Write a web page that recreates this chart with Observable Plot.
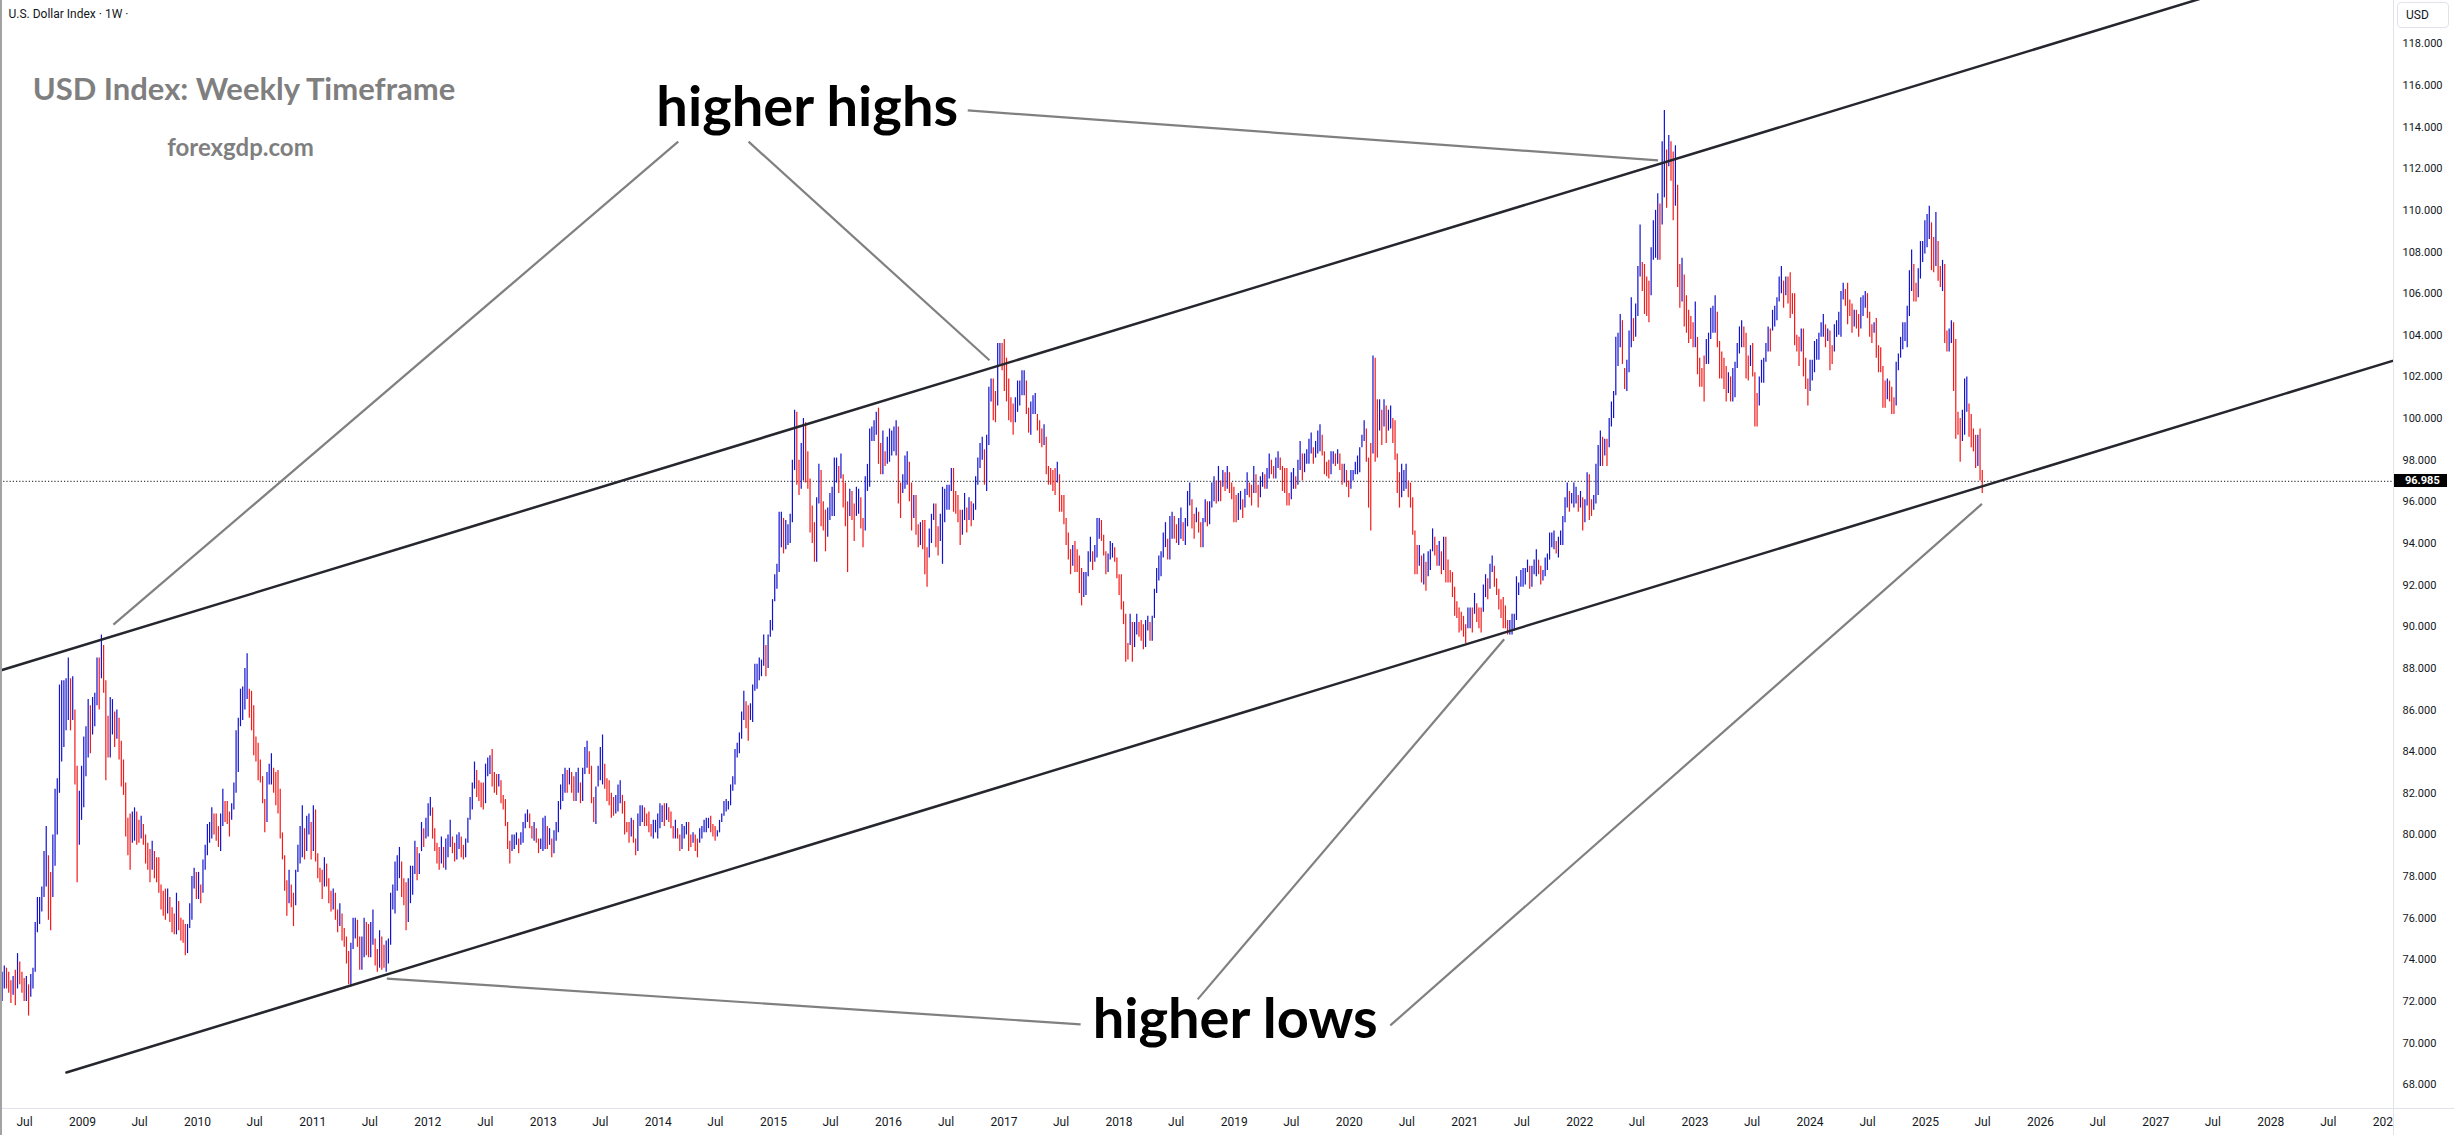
<!DOCTYPE html>
<html>
<head>
<meta charset="utf-8">
<script src="https://cdn.jsdelivr.net/npm/d3@7"></script>
<script src="https://cdn.jsdelivr.net/npm/@observablehq/plot@0.6"></script>
<style>
  html, body { margin: 0; padding: 0; background: #ffffff; }
  #wrap { position: relative; width: 2454px; height: 1135px; overflow: hidden; background: #ffffff; font-family: Roboto, "Liberation Sans", sans-serif; }
  #wrap svg { display: block; }
  .ui { position: absolute; pointer-events: none; }
  #leftEdge { left: 0; top: 0; width: 2px; height: 1135px; background: #a3a3a3; }
  #cutout { left: 2394px; top: 1109px; width: 60px; height: 26px; background: #ffffff; }
  #vAxisLine { left: 2393px; top: 0; width: 1px; height: 1135px; background: #e0e3eb; }
  #hAxisLine { left: 0; top: 1108px; width: 2454px; height: 1px; background: #e0e3eb; }
  #usdBox { left: 2397px; top: 2px; width: 52px; height: 26px; border: 1px solid #e0e3eb; border-radius: 4px; box-sizing: border-box; font-size: 12px; color: #131722; line-height: 25px; padding-left: 8px; }
  #priceTag { left: 2394px; width: 53px; height: 13px; background: #000000; color: #ffffff; font-size: 11px; font-weight: 700; line-height: 13px; padding-left: 11px; box-sizing: border-box; }
</style>
</head>
<body>
<div id="wrap"></div>
<script>
// ---------- data ----------
const firstWeek = "2008-04-14"; // Monday of the first weekly bar
// weekly bars as [high, low]
const hl2008 = [[72.6,71.6],[73.4,72.0],[73.7,72.6],[73.6,72.6],[73.4,72.4],[73.0,71.9],[73.2,72.3],[73.5,71.8],[74.3,72.6],[73.9,72.8],[73.4,72.4],[73.1,72.0],[73.2,72.0],[72.8,71.3],[73.3,72.2],[73.6,72.6],[75.8,73.4],[77.0,75.3],[77.0,75.7],[77.5,76.3],[79.2,77.0],[80.4,77.5],[79.0,75.9],[78.2,75.4],[80.0,77.0],[82.2,78.5],[82.7,80.0],[87.2,82.0],[87.4,83.5],[87.4,84.2],[87.5,85.0],[88.5,85.5],[87.5,85.0],[87.6,85.5],[86.0,82.4],[83.3,77.7],[82.1,79.5],[83.3,80.7]];
const hl2009 = [[84.7,81.3],[85.2,82.8],[86.5,83.7],[86.2,83.9],[86.6,84.8],[86.8,85.2],[88.5,86.2],[88.5,86.0],[89.6,87.5],[89.1,86.8],[87.4,82.6],[85.7,83.7],[86.6,83.7],[86.5,84.8],[85.9,84.2],[86.0,84.6],[85.6,83.6],[84.5,82.3],[83.6,81.9],[82.5,79.9],[80.8,79.0],[81.0,78.3],[81.1,79.6],[81.3,79.7],[81.1,79.5],[80.7,79.6],[80.9,79.8],[80.5,79.5],[80.0,78.6],[79.6,78.3],[79.3,77.7],[79.7,78.3],[79.2,77.9],[78.9,77.7],[78.9,77.2],[77.6,76.4],[77.3,76.1],[77.4,75.9],[77.4,76.2],[77.0,75.8],[76.5,75.3],[76.2,75.2],[77.2,75.2],[76.8,75.4],[76.0,74.9],[75.9,74.8],[75.7,74.2],[75.7,74.3],[76.7,75.5],[78.0,75.9],[78.4,77.4],[78.2,76.9]];
const hl2010 = [[78.2,76.9],[77.6,76.7],[78.8,77.2],[79.5,78.3],[80.5,79.0],[80.6,79.6],[81.3,79.8],[81.0,80.0],[81.0,79.7],[80.4,79.4],[81.0,79.2],[82.2,80.4],[81.6,80.6],[81.6,80.5],[81.1,79.9],[81.5,80.7],[82.5,81.2],[85.0,82.0],[85.6,83.0],[87.0,85.2],[87.1,85.5],[88.0,86.0],[88.7,86.5],[87.0,85.6],[86.9,85.0],[86.2,83.8],[84.7,83.5],[84.4,82.6],[83.6,82.5],[82.8,81.5],[81.7,80.1],[83.0,80.6],[83.4,82.4],[83.9,82.4],[83.2,82.0],[83.0,81.4],[83.1,81.0],[82.2,79.8],[80.1,78.8],[79.0,77.3],[77.8,76.1],[78.3,76.7],[77.6,76.5],[77.2,75.6],[78.3,76.6],[79.5,78.2],[80.4,78.6],[81.4,78.9],[80.3,78.8],[80.9,79.2],[81.0,80.0],[80.6,78.8]];
const hl2011 = [[81.4,79.2],[81.2,78.7],[79.1,77.9],[78.4,77.7],[78.3,76.9],[78.9,77.5],[78.6,77.5],[77.9,76.7],[77.3,76.3],[77.4,76.4],[77.2,75.9],[76.4,75.3],[76.7,75.6],[76.2,74.9],[75.5,74.6],[75.1,73.8],[74.4,72.8],[74.8,72.7],[76.0,74.5],[76.0,75.0],[75.9,74.6],[75.1,73.5],[75.1,73.5],[76.0,74.1],[75.8,74.2],[75.7,74.1],[75.8,74.1],[76.4,74.7],[75.0,73.7],[74.5,73.4],[75.4,73.6],[75.1,73.5],[74.7,73.6],[74.9,73.4],[75.0,73.8],[77.2,74.7],[77.6,76.4],[78.7,76.2],[79.0,77.3],[79.4,77.9],[78.7,77.0],[77.9,76.6],[77.7,75.4],[77.9,75.8],[78.5,76.7],[78.5,77.1],[79.7,78.1],[79.4,77.8],[79.1,78.1],[80.6,79.2],[80.3,79.4],[80.8,79.8]];
const hl2012 = [[81.5,79.9],[81.8,80.9],[81.3,79.8],[80.3,79.2],[79.6,78.6],[79.4,78.3],[79.9,78.6],[79.4,78.4],[79.8,78.3],[80.0,78.9],[80.7,79.4],[79.9,79.1],[79.6,78.7],[80.0,78.8],[80.1,79.3],[79.9,78.9],[79.5,78.8],[79.8,78.9],[80.8,79.6],[81.8,80.7],[82.5,81.2],[83.5,82.2],[83.1,81.8],[82.6,81.6],[82.5,81.3],[82.5,81.2],[83.4,81.5],[83.7,82.8],[83.8,82.9],[84.1,82.3],[83.0,82.0],[82.9,81.9],[82.9,82.3],[82.6,81.5],[81.9,81.2],[81.7,80.4],[80.6,79.3],[79.7,78.6],[80.0,79.2],[80.0,79.3],[80.1,79.5],[79.8,79.1],[80.1,79.5],[80.6,79.6],[81.0,80.3],[81.2,80.6],[81.0,80.3],[80.4,79.8],[80.6,79.7],[80.3,79.6],[79.8,79.1],[79.8,79.3],[80.8,79.2]];
const hl2013 = [[80.9,79.3],[80.4,79.3],[80.3,79.5],[79.8,78.9],[80.2,79.1],[80.6,79.7],[81.6,80.1],[82.4,81.2],[82.9,81.6],[83.2,82.0],[83.1,82.0],[83.2,82.4],[83.0,82.0],[82.8,81.6],[83.0,81.6],[83.2,82.0],[82.5,81.5],[83.2,81.6],[84.2,82.9],[84.5,83.2],[84.0,82.9],[83.3,81.5],[81.8,80.6],[82.3,80.5],[83.3,82.3],[84.2,82.6],[84.8,82.4],[83.4,82.2],[82.7,81.6],[82.6,81.4],[82.0,80.8],[81.8,80.9],[81.9,81.0],[82.4,81.1],[82.6,81.5],[81.9,81.0],[81.6,80.0],[80.6,80.1],[80.6,79.6],[80.8,79.9],[80.7,79.6],[79.8,79.0],[81.0,79.2],[81.4,80.4],[81.4,80.6],[81.3,80.4],[81.0,80.4],[81.1,80.1],[80.5,79.9],[80.7,79.8],[80.7,80.1],[81.0,79.8]];
const hl2014 = [[81.5,80.3],[81.4,80.6],[81.5,80.4],[81.5,80.7],[81.3,80.6],[81.1,80.3],[80.4,79.8],[80.7,79.8],[80.3,79.8],[80.0,79.2],[80.5,79.3],[80.4,79.8],[80.6,80.0],[80.6,79.2],[80.0,79.4],[80.1,79.6],[80.0,79.2],[79.8,78.9],[80.3,79.6],[80.4,79.8],[80.7,80.1],[80.8,80.1],[80.8,80.3],[80.9,80.1],[80.5,79.9],[80.4,79.7],[80.2,79.9],[80.7,80.1],[81.0,80.6],[81.6,80.9],[81.7,81.1],[81.6,81.2],[82.4,81.4],[82.8,82.1],[84.1,82.4],[84.4,83.7],[84.9,83.9],[85.9,84.6],[86.9,85.5],[86.4,85.1],[86.2,84.5],[86.3,85.5],[87.2,85.4],[88.2,86.9],[88.2,87.0],[88.5,87.4],[88.4,87.6],[89.6,88.1],[89.1,87.6],[89.6,88.0],[90.3,89.5],[91.3,89.8]];
const hl2015 = [[92.5,91.2],[93.0,91.8],[95.5,92.6],[95.5,93.8],[95.2,93.5],[95.1,93.7],[94.9,93.9],[95.4,94.0],[98.0,95.0],[100.4,97.5],[100.3,96.8],[98.0,96.3],[98.8,96.6],[100.0,97.0],[99.8,96.9],[98.4,96.6],[97.1,94.5],[95.8,94.0],[95.0,93.1],[96.2,93.1],[97.8,95.9],[97.5,94.8],[96.0,94.6],[95.6,93.6],[95.7,94.3],[96.4,95.1],[96.7,95.3],[98.1,95.3],[98.1,96.9],[97.7,96.4],[98.3,97.1],[97.3,95.7],[96.9,94.8],[96.0,92.6],[96.6,95.3],[96.5,95.1],[95.9,94.1],[96.7,95.3],[96.6,95.4],[96.2,94.7],[95.2,93.8],[97.2,94.6],[97.8,96.5],[99.5,96.7],[99.6,98.9],[99.9,98.9],[100.3,99.2],[100.5,97.8],[98.8,97.3],[99.4,97.3],[98.4,97.7],[99.1,97.8]];
const hl2016 = [[99.5,97.9],[99.4,98.2],[99.6,98.4],[99.9,98.2],[99.6,95.9],[96.9,95.2],[97.3,96.4],[98.2,96.6],[98.4,96.8],[97.9,96.0],[96.9,94.6],[96.3,95.2],[96.3,94.4],[94.9,93.8],[95.0,93.9],[95.1,93.7],[95.1,92.5],[93.8,91.9],[94.7,93.3],[95.4,94.0],[95.9,95.1],[95.9,93.8],[94.8,93.4],[95.4,94.1],[96.7,93.0],[96.6,95.0],[96.8,95.6],[96.8,95.6],[97.6,96.5],[97.6,95.5],[96.5,95.4],[96.3,95.0],[95.6,93.9],[95.6,94.4],[96.4,95.1],[95.7,94.5],[96.2,95.1],[96.0,94.8],[95.9,95.1],[97.2,95.6],[98.1,96.8],[98.8,97.6],[99.1,98.0],[98.5,96.8],[99.2,96.5],[101.5,98.7],[101.9,100.8],[101.9,99.9],[101.3,99.8],[103.6,100.6],[103.6,102.6],[103.6,102.3]];
const hl2017 = [[103.8,101.3],[102.9,100.8],[101.9,99.9],[101.0,99.8],[100.7,99.2],[101.0,99.8],[101.8,100.3],[101.8,100.6],[102.3,101.1],[102.3,101.1],[101.8,100.2],[100.5,99.3],[100.8,99.2],[101.1,100.2],[101.2,100.2],[100.2,99.4],[99.9,98.8],[99.5,98.6],[99.7,98.7],[99.1,97.3],[97.7,96.8],[97.6,96.8],[97.5,96.5],[97.6,96.3],[97.9,96.9],[97.3,95.5],[96.3,95.5],[96.3,94.9],[95.2,93.9],[94.5,93.2],[93.7,92.5],[93.9,92.9],[94.1,92.6],[93.7,92.6],[93.4,91.6],[92.8,91.0],[92.6,91.4],[92.6,91.5],[93.6,92.4],[94.3,93.1],[93.6,92.7],[93.9,93.1],[95.2,93.3],[95.2,94.2],[95.1,94.1],[94.4,93.4],[93.6,92.5],[93.5,92.6],[94.1,93.2],[94.0,93.3],[93.8,93.1],[93.3,92.3]];
const hl2018 = [[92.5,91.5],[92.5,90.8],[91.2,90.1],[90.6,88.3],[89.2,88.4],[90.6,89.1],[90.2,88.3],[90.2,89.0],[90.6,89.6],[90.2,89.5],[90.3,89.3],[90.1,88.9],[90.3,89.0],[90.5,89.8],[90.2,89.3],[90.5,89.3],[91.8,90.4],[92.8,91.6],[93.4,92.2],[93.6,92.4],[94.5,93.3],[95.0,93.8],[94.2,93.2],[95.3,93.2],[95.5,94.2],[95.3,94.2],[94.9,94.0],[95.2,93.9],[95.7,94.2],[95.0,94.1],[95.2,93.9],[96.5,94.8],[96.9,95.8],[96.1,94.7],[95.4,94.2],[95.7,95.0],[95.5,94.5],[95.0,93.8],[95.2,93.8],[96.1,95.0],[96.0,94.8],[96.0,94.9],[96.9,95.7],[97.2,96.0],[97.0,95.9],[97.7,96.0],[97.0,96.0],[97.5,96.7],[97.4,96.5],[97.7,96.6],[97.4,96.4],[96.9,96.1],[96.7,95.0]];
const hl2019 = [[96.3,95.0],[96.4,95.1],[96.5,95.6],[96.1,95.2],[96.6,95.7],[97.4,96.3],[96.9,96.2],[96.8,95.8],[97.7,96.4],[97.3,96.4],[96.8,95.7],[97.2,96.2],[97.4,96.7],[97.3,96.6],[97.6,96.6],[98.3,97.1],[98.0,97.3],[97.7,97.1],[98.1,97.1],[98.4,97.6],[98.1,97.5],[97.7,96.5],[97.6,96.4],[97.6,95.8],[96.4,95.8],[97.4,96.1],[97.6,96.6],[97.2,96.6],[98.0,96.8],[98.9,97.5],[98.3,97.0],[98.3,97.4],[98.5,97.8],[99.0,97.8],[99.3,98.3],[98.6,97.8],[98.9,98.1],[99.4,98.3],[99.7,98.4],[99.2,98.2],[98.4,97.3],[97.9,97.2],[98.0,97.1],[98.4,97.3],[98.4,97.8],[98.3,97.7],[98.5,97.8],[98.3,97.5],[97.8,96.8],[97.8,96.9],[97.5,96.7],[97.0,96.2]];
const hl2020 = [[97.5,96.6],[97.5,97.0],[97.9,97.3],[98.2,97.3],[98.6,97.4],[99.2,98.6],[99.9,98.9],[99.5,97.9],[98.1,95.7],[98.8,94.6],[103.0,98.3],[102.9,97.9],[100.9,98.1],[100.9,99.4],[100.4,98.7],[100.9,99.6],[100.6,98.8],[100.4,99.4],[100.6,99.5],[100.0,98.8],[99.9,98.0],[98.3,96.4],[97.4,95.7],[97.8,96.2],[97.5,96.5],[97.8,96.6],[97.0,96.2],[96.9,95.7],[96.2,94.4],[94.6,92.5],[93.9,92.5],[93.9,92.9],[93.4,92.1],[93.5,92.0],[93.1,91.7],[93.6,92.4],[93.7,92.7],[94.7,93.6],[94.3,93.4],[93.9,92.9],[94.1,92.9],[93.6,92.5],[94.3,92.7],[94.3,92.1],[93.2,92.1],[92.7,92.1],[92.6,91.4],[91.9,90.5],[91.2,90.4],[90.9,89.7],[90.7,89.8],[90.5,89.5]];
const hl2021 = [[90.1,89.2],[90.9,89.9],[90.9,89.9],[90.9,89.7],[91.6,90.6],[91.1,90.2],[90.9,89.9],[90.9,89.7],[92.0,90.7],[92.5,91.4],[92.3,91.3],[93.0,91.8],[93.4,92.6],[92.9,91.9],[92.3,91.5],[91.8,90.8],[91.3,90.4],[91.4,89.9],[91.0,89.9],[90.3,89.6],[90.3,89.6],[90.6,89.6],[90.6,89.8],[92.4,90.3],[92.1,91.5],[92.7,91.9],[92.8,91.9],[92.8,92.0],[93.2,92.6],[92.9,91.8],[92.9,91.9],[93.2,92.5],[93.7,92.4],[93.2,92.5],[92.9,92.0],[92.7,92.2],[93.3,92.4],[93.5,92.7],[94.5,93.2],[94.5,93.8],[94.6,93.7],[94.1,93.5],[94.3,93.3],[94.6,93.9],[95.3,93.9],[96.2,95.0],[96.9,95.7],[96.5,95.5],[96.4,95.9],[96.9,95.7],[96.7,95.9],[96.3,95.5]];
const hl2022 = [[96.5,95.7],[96.2,94.6],[96.1,95.0],[97.4,95.8],[97.3,95.1],[96.1,95.3],[96.3,95.6],[97.8,95.9],[98.7,96.3],[99.4,97.7],[99.1,97.7],[99.0,98.2],[99.0,97.7],[100.0,98.6],[100.8,99.6],[101.3,100.0],[103.9,101.1],[104.1,102.5],[105.0,103.4],[104.7,102.6],[102.4,101.4],[102.8,101.3],[104.2,102.2],[105.8,103.4],[104.8,103.7],[105.5,103.9],[107.3,104.9],[109.3,106.8],[107.5,106.1],[107.4,105.0],[106.8,104.9],[106.6,104.6],[108.2,105.9],[109.5,107.6],[110.0,107.7],[110.8,107.6],[110.3,107.6],[113.3,109.3],[114.8,110.6],[112.9,110.1],[113.6,112.1],[113.3,111.4],[112.8,109.5],[113.1,110.2],[111.2,106.3],[107.4,105.3],[107.7,105.6],[106.9,104.4],[105.9,104.1],[105.2,103.6],[104.9,103.8],[104.6,103.4]];
const hl2023 = [[105.6,103.4],[103.9,102.1],[102.9,101.5],[102.4,101.5],[103.0,100.8],[103.8,102.6],[104.1,102.6],[105.3,103.8],[105.4,104.1],[105.9,104.1],[105.1,103.4],[103.7,101.9],[103.2,101.9],[102.9,101.4],[102.5,100.8],[102.2,101.2],[102.0,100.8],[102.4,100.8],[102.7,101.0],[103.6,102.4],[104.4,103.1],[104.7,103.4],[104.4,103.4],[104.1,101.9],[103.0,101.8],[103.5,102.5],[103.6,102.0],[102.2,99.6],[101.2,99.6],[102.0,100.6],[102.8,101.7],[102.9,101.7],[103.6,102.7],[104.4,103.2],[104.3,103.2],[105.2,104.2],[105.4,104.4],[105.8,104.7],[106.8,105.6],[107.3,106.0],[106.6,105.3],[106.8,105.9],[106.8,105.5],[107.0,104.8],[106.0,105.0],[106.0,103.5],[104.0,103.2],[103.9,102.5],[104.3,103.2],[104.3,102.0],[102.9,101.4],[101.9,100.6]];
const hl2024 = [[102.8,101.3],[102.8,101.8],[103.7,102.2],[103.8,102.8],[104.1,102.8],[104.6,103.9],[105.0,103.9],[104.5,103.4],[104.3,103.7],[104.2,102.3],[103.5,102.6],[104.5,103.2],[104.7,103.9],[105.1,104.0],[106.1,103.9],[106.5,105.7],[106.2,105.4],[106.5,104.5],[105.7,104.9],[105.5,104.1],[105.2,104.4],[105.2,104.3],[105.0,103.9],[105.8,104.3],[105.9,104.9],[106.1,105.3],[106.0,104.8],[105.1,103.9],[104.5,103.6],[104.6,104.1],[104.8,102.9],[103.5,102.2],[103.4,102.2],[102.5,100.5],[101.8,100.5],[101.9,100.9],[101.8,100.8],[101.5,100.2],[101.0,100.2],[102.7,100.6],[103.1,102.3],[103.9,102.9],[104.6,103.3],[104.6,103.7],[105.4,103.4],[107.1,104.9],[108.1,106.1],[107.4,105.6],[106.5,105.6],[107.2,105.8],[108.5,106.7],[108.5,107.5],[109.5,107.9]];
const hl2025 = [[109.8,108.2],[110.2,108.6],[109.4,107.1],[108.7,107.0],[109.9,107.3],[108.5,106.6],[107.3,106.3],[107.6,106.1],[107.4,103.6],[104.2,103.2],[104.3,103.2],[104.7,103.6],[104.6,101.3],[103.8,99.0],[100.3,99.2],[100.0,97.9],[100.4,98.9],[101.9,99.2],[102.0,100.3],[100.7,99.1],[100.2,98.6],[99.5,98.4],[99.2,97.6],[99.2,97.7],[99.5,97.0],[97.5,96.4]];
const lastPrice = 96.985;

// channel trend lines (two anchor points each) and connector lines
const upperChannel = [{date: "2008-01-01", value: 87.41}, {date: "2029-06-01", value: 123.59}];
const lowerChannel = [{date: "2008-11-11", value: 68.59}, {date: "2029-06-01", value: 103.38}];
const connectors = [
  {d1: "2009-04-09", v1: 90.1,  d2: "2014-03-05", v2: 113.3},
  {d1: "2014-10-14", v1: 113.3, d2: "2016-11-16", v2: 102.8},
  {d1: "2016-09-08", v1: 114.8, d2: "2022-09-06", v2: 112.4},
  {d1: "2011-08-24", v1: 73.1,  d2: "2017-09-01", v2: 70.9},
  {d1: "2018-09-07", v1: 72.1,  d2: "2021-05-06", v2: 89.4},
  {d1: "2020-05-10", v1: 70.85, d2: "2025-06-29", v2: 95.9}
];
const notes = [
  {date: "2010-05-28", value: 115.3, label: "USD Index: Weekly Timeframe", size: 31, color: "#7f7f7f"},
  {date: "2010-05-17", value: 112.6, label: "forexgdp.com", size: 24, color: "#7f7f7f"},
  {date: "2015-04-18", value: 114.05, label: "higher highs", size: 56, color: "#000000"},
  {date: "2019-01-04", value: 70.25, label: "higher lows", size: 56, color: "#000000"}
];
const yTicks = [68,70,72,74,76,78,80,82,84,86,88,90,92,94,96,98,100,102,104,106,108,110,112,114,116,118];
const xTicks = ["2008-07-01","2009-01-01","2009-07-01","2010-01-01","2010-07-01","2011-01-01","2011-07-01","2012-01-01","2012-07-01","2013-01-01","2013-07-01","2014-01-01","2014-07-01","2015-01-01","2015-07-01","2016-01-01","2016-07-01","2017-01-01","2017-07-01","2018-01-01","2018-07-01","2019-01-01","2019-07-01","2020-01-01","2020-07-01","2021-01-01","2021-07-01","2022-01-01","2022-07-01","2023-01-01","2023-07-01","2024-01-01","2024-07-01","2025-01-01","2025-07-01","2026-01-01","2026-07-01","2027-01-01","2027-07-01","2028-01-01","2028-07-01","2029-01-01"];
const legendText = "U.S. Dollar Index · 1W ·";

// ---------- build table ----------
const allWeeks = [hl2008, hl2009, hl2010, hl2011, hl2012, hl2013, hl2014, hl2015, hl2016, hl2017, hl2018, hl2019, hl2020, hl2021, hl2022, hl2023, hl2024, hl2025].flat();
const t0 = new Date(firstWeek + "T00:00:00Z").getTime();
const bars = allWeeks.map(([high, low], i) => ({date: new Date(t0 + i * 7 * 864e5), high, low}));
bars.forEach((d, i) => {
  const p = bars[i - 1];
  d.up = !p || (d.high + d.low) >= (p.high + p.low);
});
const UP = "#1212cf", DOWN = "#f31a1a";

const chart = Plot.plot({
  width: 2454,
  height: 1135,
  marginLeft: 0,
  marginRight: 61,
  marginTop: 0,
  marginBottom: 27,
  style: {fontFamily: "Roboto, 'Liberation Sans', sans-serif", color: "#131722", background: "#ffffff", overflow: "visible"},
  x: {type: "utc", domain: [new Date("2008-04-16"), new Date("2029-01-24")]},
  y: {domain: [66.86, 120.08]},
  color: {type: "identity"},
  marks: [
    Plot.ruleY([lastPrice], {stroke: "#131722", strokeWidth: 1, strokeDasharray: "1.2,2"}),
    Plot.ruleX(bars, {x: "date", y1: "low", y2: "high", stroke: d => d.up ? UP : DOWN, strokeWidth: 1.2}),
    Plot.line(upperChannel, {x: d => new Date(d.date), y: "value", stroke: "#25262e", strokeWidth: 2.5, clip: true}),
    Plot.line(lowerChannel, {x: d => new Date(d.date), y: "value", stroke: "#25262e", strokeWidth: 2.5, clip: true}),
    Plot.link(connectors, {x1: d => new Date(d.d1), y1: "v1", x2: d => new Date(d.d2), y2: "v2", stroke: "#808080", strokeWidth: 2.2}),
    Plot.text(notes, {x: d => new Date(d.date), y: "value", text: "label", fontSize: d => d.size, fill: "color", fontWeight: 700, fontFamily: "Lato, 'Open Sans', sans-serif", textAnchor: "middle", lineAnchor: "bottom"}),
    Plot.text([legendText], {text: d => d, frameAnchor: "top-left", dx: 8, dy: 14, lineAnchor: "middle", textAnchor: "start", fontSize: 12, fill: "#131722"}),
    Plot.axisX(xTicks.map(s => new Date(s)), {tickSize: 0, tickPadding: 9, fontSize: 12, label: null,
      tickFormat: d => d.getUTCMonth() === 6 ? "Jul" : String(d.getUTCFullYear())}),
    Plot.axisY(yTicks, {anchor: "right", tickSize: 0, tickPadding: 9, fontSize: 11, label: null, tickFormat: d3.format(".3f")})
  ]
});

const wrap = document.getElementById("wrap");
wrap.appendChild(chart);
function ui(id, text) {
  const el = document.createElement("div");
  el.className = "ui"; el.id = id;
  if (text) el.textContent = text;
  wrap.appendChild(el);
  return el;
}
ui("cutout");
ui("hAxisLine");
ui("vAxisLine");
ui("leftEdge");
ui("usdBox", "USD");
const tag = ui("priceTag", d3.format(".3f")(lastPrice));
tag.style.top = (chart.scale("y").apply(lastPrice) - 6.5) + "px";
</script>
</body>
</html>
